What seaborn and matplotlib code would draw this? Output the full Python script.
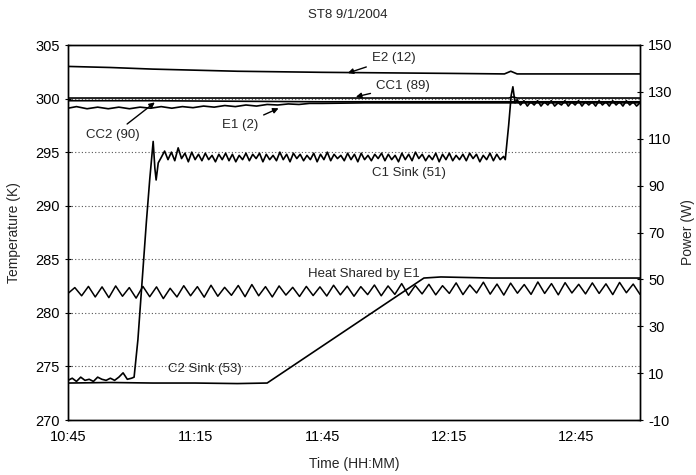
import numpy as np
import pandas as pd
import matplotlib
matplotlib.use("Agg")
import matplotlib.pyplot as plt
import seaborn as sns

# ---------------- data (time in minutes after 10:45) ----------------
tick_minutes = [0, 30, 60, 90, 120]
tick_labels = ["10:45", "11:15", "11:45", "12:15", "12:45"]

e2_t = [0, 10, 20, 30, 40, 50, 60, 75, 90, 103, 104.5, 106, 120, 135]
e2_v = [303.0, 302.9, 302.75, 302.65, 302.55, 302.5, 302.45, 302.4, 302.35,
        302.3, 302.55, 302.3, 302.3, 302.3]

cc1_t = [0, 30, 60, 90, 104, 105, 106, 120, 135]
cc1_v = [300.05, 300.05, 300.05, 300.05, 300.05, 300.15, 300.05, 300.05, 300.05]

cc2_t = [0, 20, 40, 60, 90, 120, 135]
cc2_v = [299.8, 299.8, 299.75, 299.7, 299.7, 299.7, 299.7]

e1_t = [0, 2, 4.5, 7, 9.5, 12, 14.5, 17, 19.5, 22, 24.5, 27, 29.5, 32, 34.5,
        37, 39.5, 42, 44.5, 47, 49.5, 52, 54.5, 57, 60, 70, 80, 90, 100, 110,
        120, 135]
e1_v = [299.1, 299.25, 299.05, 299.2, 299.05, 299.2, 299.05, 299.2, 299.1,
        299.25, 299.1, 299.25, 299.15, 299.3, 299.2, 299.35, 299.25, 299.4,
        299.3, 299.45, 299.4, 299.5, 299.45, 299.55, 299.55, 299.6, 299.6,
        299.6, 299.6, 299.6, 299.6, 299.6]

c1_pre_t = [0, 1, 2, 3, 4, 5, 6, 7, 8, 9, 10, 11, 12, 13, 14, 15,
            15.6, 16.5, 17.5, 18.5, 19.3, 20.1, 20.5, 20.8, 21.3, 22.0]
c1_pre_v = [273.7, 273.9, 273.6, 274.0, 273.7, 273.8, 273.6, 274.0, 273.8,
            273.7, 273.9, 273.7, 274.0, 274.4, 273.8, 273.9,
            274.0, 277.5, 283.0, 288.5, 292.5, 296.0, 293.5, 292.4, 294.0, 294.5]
c1_osc1_v = [295.1, 294.3, 295.0, 294.2, 295.4, 294.4, 294.9, 294.1, 295.0, 294.3,
             294.8, 294.2, 294.9, 294.3, 294.7, 294.1, 294.8, 294.3, 294.9, 294.2,
             294.8, 294.1, 294.7, 294.3, 294.9, 294.2, 294.8, 294.4, 294.9, 294.1,
             294.8, 294.3, 294.7, 294.2, 295.0, 294.3, 294.8, 294.1, 294.9, 294.4,
             294.8, 294.2, 294.7, 294.3, 294.9, 294.1, 294.8, 294.3, 295.0, 294.2,
             294.8, 294.4, 294.7, 294.2, 294.9, 294.3, 294.8, 294.1, 294.9, 294.3,
             294.7, 294.2, 294.8, 294.4, 294.9, 294.2, 294.8, 294.3, 294.7, 294.1,
             294.9, 294.3, 294.8, 294.2, 295.0, 294.4, 294.8, 294.2, 294.7, 294.3,
             294.9, 294.1, 294.8, 294.3, 294.9, 294.2, 294.7, 294.3, 294.8, 294.2,
             294.9, 294.4, 294.8, 294.1, 294.7, 294.3, 294.9, 294.2, 294.8, 294.3,
             294.6]
c1_osc1_span = (22.8, 102.8)
c1_jump_t = [103.2, 104.0, 104.6, 105.0, 105.5, 106.0]
c1_jump_v = [294.3, 297.5, 300.3, 301.1, 299.6, 299.9]
c1_osc2_v = [299.4, 299.8, 299.3, 299.7, 299.4, 299.8, 299.3, 299.7, 299.4, 299.8,
             299.3, 299.6, 299.4, 299.8, 299.3, 299.7, 299.4, 299.8, 299.3, 299.7,
             299.4, 299.7, 299.3, 299.8, 299.4, 299.7, 299.3, 299.8, 299.4, 299.7,
             299.3, 299.8, 299.4, 299.7, 299.3, 299.6]
c1_osc2_span = (106.8, 135.0)

c2_t = [0, 10, 20, 30, 40, 47, 84, 88, 100, 110, 120, 135]
c2_v = [273.45, 273.5, 273.45, 273.45, 273.4, 273.45, 283.25, 283.35, 283.25,
        283.25, 283.25, 283.25]

heat_v = [44.0, 46.5, 43.0, 47.0, 42.5, 46.8, 42.2, 47.2, 42.8, 46.5, 42.0, 47.0,
          42.6, 46.8, 41.8, 46.2, 42.5, 47.3, 43.0, 46.9, 42.4, 47.5, 42.8, 46.6,
          43.2, 47.4, 42.6, 47.8, 43.0, 46.9, 42.5, 47.2, 43.3, 46.6, 42.7, 47.0,
          43.1, 46.8, 42.9, 47.5, 43.4, 47.1, 42.8, 46.9, 43.5, 47.6, 43.0, 47.2,
          43.6, 48.2, 43.2, 47.4, 43.8, 47.9, 43.4, 47.3, 44.0, 48.5, 43.5, 47.6,
          44.2, 48.8, 43.7, 48.0, 43.3, 48.4, 44.1, 47.8, 43.6, 48.9, 44.0, 48.2,
          43.4, 48.6, 44.2, 47.9, 43.8, 48.5, 44.0, 48.1, 43.5, 48.7, 44.3, 48.0,
          43.6]
heat_span = (0.0, 135.0)

# ---------------- build frames ----------------
c1_t = (list(c1_pre_t)
        + list(np.linspace(*c1_osc1_span, len(c1_osc1_v)))
        + list(c1_jump_t)
        + list(np.linspace(*c1_osc2_span, len(c1_osc2_v))))
c1_v = list(c1_pre_v) + list(c1_osc1_v) + list(c1_jump_v) + list(c1_osc2_v)
heat_t = list(np.linspace(*heat_span, len(heat_v)))

temp_series = {
    "E2 (12)": (e2_t, e2_v),
    "CC1 (89)": (cc1_t, cc1_v),
    "CC2 (90)": (cc2_t, cc2_v),
    "E1 (2)": (e1_t, e1_v),
    "C1 Sink (51)": (c1_t, c1_v),
    "C2 Sink (53)": (c2_t, c2_v),
}

sns.set_style("white")
plt.rcParams["font.family"] = ["Liberation Sans", "DejaVu Sans"]
plt.rcParams["axes.unicode_minus"] = False

fig = plt.figure(figsize=(6.96, 4.75), dpi=100)
ax = fig.add_axes([68 / 696, 1 - 420 / 475, (640 - 68) / 696, (420 - 45) / 475])
ax2 = ax.twinx()

for name, (t, v) in temp_series.items():
    df = pd.DataFrame({"t": t, "v": v})
    sns.lineplot(data=df, x="t", y="v", ax=ax, color="black", linewidth=1.2,
                 estimator=None, sort=False)

dfh = pd.DataFrame({"t": heat_t, "v": heat_v})
sns.lineplot(data=dfh, x="t", y="v", ax=ax2, color="black", linewidth=1.1,
             estimator=None, sort=False)

ax.set_xlim(0, 135)
ax.set_ylim(270, 305)
ax2.set_ylim(-10, 150)
ax.set_yticks(np.arange(270, 306, 5))
ax2.set_yticks(np.arange(-10, 151, 20))
ax.set_xticks(tick_minutes)
ax.set_xticklabels(tick_labels)

for y in range(275, 305, 5):
    ax.axhline(y, color="#555555", linestyle=(0, (1, 2)), linewidth=0.8, zorder=0)

ax.set_xlabel("Time (HH:MM)", fontsize=10, labelpad=9)
ax.set_ylabel("Temperature (K)", fontsize=10, labelpad=10)
ax2.set_ylabel("Power (W)", fontsize=10, labelpad=6)
fig.text(0.5, 1 - 15 / 475, "ST8 9/1/2004", ha="center", va="center", fontsize=9.5)

for a in (ax, ax2):
    for s in a.spines.values():
        s.set_color("black")
        s.set_linewidth(1.0)
    a.tick_params(axis="both", direction="inout", length=5, width=0.8,
                  color="black", labelsize=10.5, labelcolor="black")
ax.tick_params(axis="x", pad=5)

# annotations
arrow = dict(arrowstyle="-|>", color="black", lw=1.0, mutation_scale=8)
fs = 9.5
ax.annotate("E2 (12)", xy=(65.4, 302.3), xytext=(71.8, 303.8), fontsize=fs,
            va="center", ha="left", arrowprops=arrow)
ax.annotate("CC1 (89)", xy=(67.3, 300.1), xytext=(72.8, 301.2), fontsize=fs,
            va="center", ha="left", arrowprops=arrow)
ax.annotate("CC2 (90)", xy=(21.0, 299.8), xytext=(4.3, 296.6), fontsize=fs,
            va="center", ha="left", arrowprops=arrow)
ax.annotate("E1 (2)", xy=(50.3, 299.2), xytext=(36.4, 297.5), fontsize=fs,
            va="center", ha="left", arrowprops=arrow)
ax.text(71.8, 293.1, "C1 Sink (51)", fontsize=fs, va="center", ha="left")
ax.text(56.7, 283.6, "Heat Shared by E1", fontsize=fs, va="center", ha="left")
ax.text(23.6, 274.75, "C2 Sink (53)", fontsize=fs, va="center", ha="left")

fig.savefig("out.png", dpi=100)
